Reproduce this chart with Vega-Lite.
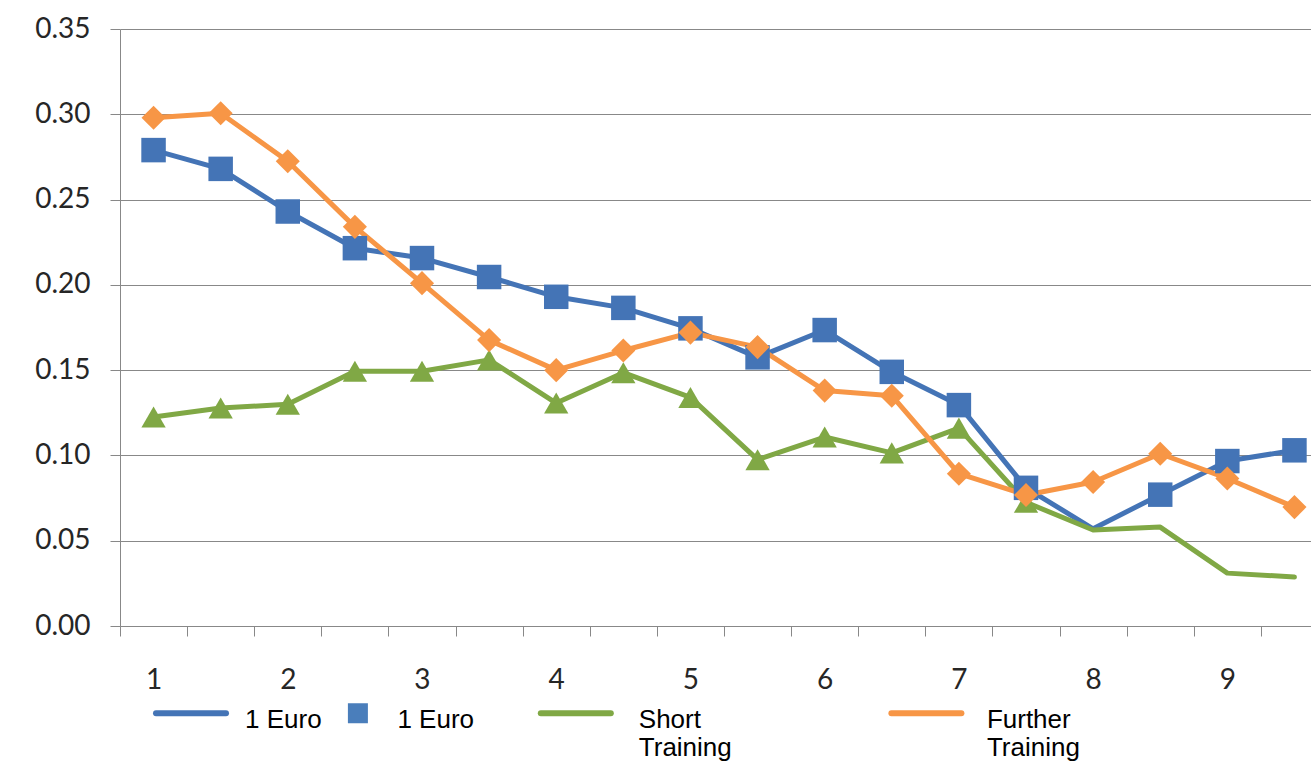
{
  "$schema": "https://vega.github.io/schema/vega-lite/v6.json",
  "autosize": "none",
  "padding": {"left": 120, "top": 29, "right": 0, "bottom": 137},
  "width": 1208,
  "height": 597,
  "background": "white",
  "config": {
    "view": {"stroke": null},
    "legend": {
      "orient": "none",
      "legendX": 36,
      "legendY": 672,
      "padding": 0,
      "direction": "horizontal",
      "title": null,
      "symbolType": "stroke",
      "symbolSize": 4900,
      "symbolStrokeWidth": 6,
      "labelFont": "Liberation Sans",
      "labelFontSize": 26,
      "labelColor": "#000000",
      "labelOffset": 19.5,
      "labelLimit": 0,
      "labelBaseline": "top",
      "labelLineHeight": 32,
      "columnPadding": 25.4
    }
  },
  "data": {
    "values": [
      {"x": 1, "series": "1 Euro", "v": 0.279, "m": true},
      {"x": 2, "series": "1 Euro", "v": 0.268, "m": true},
      {"x": 3, "series": "1 Euro", "v": 0.243, "m": true},
      {"x": 4, "series": "1 Euro", "v": 0.2215, "m": true},
      {"x": 5, "series": "1 Euro", "v": 0.2157, "m": true},
      {"x": 6, "series": "1 Euro", "v": 0.2046, "m": true},
      {"x": 7, "series": "1 Euro", "v": 0.193, "m": true},
      {"x": 8, "series": "1 Euro", "v": 0.1865, "m": true},
      {"x": 9, "series": "1 Euro", "v": 0.1745, "m": true},
      {"x": 10, "series": "1 Euro", "v": 0.1575, "m": true},
      {"x": 11, "series": "1 Euro", "v": 0.1735, "m": true},
      {"x": 12, "series": "1 Euro", "v": 0.149, "m": true},
      {"x": 13, "series": "1 Euro", "v": 0.1295, "m": true},
      {"x": 14, "series": "1 Euro", "v": 0.081, "m": true},
      {"x": 15, "series": "1 Euro", "v": 0.057, "m": false},
      {"x": 16, "series": "1 Euro", "v": 0.077, "m": true},
      {"x": 17, "series": "1 Euro", "v": 0.0967, "m": true},
      {"x": 18, "series": "1 Euro", "v": 0.103, "m": true},
      {"x": 1, "series": "Short Training", "v": 0.1225, "m": true},
      {"x": 2, "series": "Short Training", "v": 0.1278, "m": true},
      {"x": 3, "series": "Short Training", "v": 0.130, "m": true},
      {"x": 4, "series": "Short Training", "v": 0.1494, "m": true},
      {"x": 5, "series": "Short Training", "v": 0.1494, "m": true},
      {"x": 6, "series": "Short Training", "v": 0.156, "m": true},
      {"x": 7, "series": "Short Training", "v": 0.1307, "m": true},
      {"x": 8, "series": "Short Training", "v": 0.1485, "m": true},
      {"x": 9, "series": "Short Training", "v": 0.134, "m": true},
      {"x": 10, "series": "Short Training", "v": 0.0975, "m": true},
      {"x": 11, "series": "Short Training", "v": 0.1108, "m": true},
      {"x": 12, "series": "Short Training", "v": 0.1015, "m": true},
      {"x": 13, "series": "Short Training", "v": 0.116, "m": true},
      {"x": 14, "series": "Short Training", "v": 0.0725, "m": true},
      {"x": 15, "series": "Short Training", "v": 0.0563, "m": false},
      {"x": 16, "series": "Short Training", "v": 0.058, "m": false},
      {"x": 17, "series": "Short Training", "v": 0.031, "m": false},
      {"x": 18, "series": "Short Training", "v": 0.0287, "m": false},
      {"x": 1, "series": "Further Training", "v": 0.298, "m": true},
      {"x": 2, "series": "Further Training", "v": 0.3006, "m": true},
      {"x": 3, "series": "Further Training", "v": 0.2725, "m": true},
      {"x": 4, "series": "Further Training", "v": 0.234, "m": true},
      {"x": 5, "series": "Further Training", "v": 0.201, "m": true},
      {"x": 6, "series": "Further Training", "v": 0.1676, "m": true},
      {"x": 7, "series": "Further Training", "v": 0.150, "m": true},
      {"x": 8, "series": "Further Training", "v": 0.1615, "m": true},
      {"x": 9, "series": "Further Training", "v": 0.172, "m": true},
      {"x": 10, "series": "Further Training", "v": 0.1635, "m": true},
      {"x": 11, "series": "Further Training", "v": 0.138, "m": true},
      {"x": 12, "series": "Further Training", "v": 0.135, "m": true},
      {"x": 13, "series": "Further Training", "v": 0.0893, "m": true},
      {"x": 14, "series": "Further Training", "v": 0.0768, "m": true},
      {"x": 15, "series": "Further Training", "v": 0.0844, "m": true},
      {"x": 16, "series": "Further Training", "v": 0.101, "m": true},
      {"x": 17, "series": "Further Training", "v": 0.0865, "m": true},
      {"x": 18, "series": "Further Training", "v": 0.0697, "m": true}
    ]
  },
  "encoding": {
    "x": {
      "field": "x",
      "type": "quantitative",
      "scale": {"domain": [0.5, 18.5], "nice": false, "zero": false},
      "axis": {
        "title": null,
        "values": [0.5, 1.5, 2.5, 3.5, 4.5, 5.5, 6.5, 7.5, 8.5, 9.5, 10.5, 11.5, 12.5, 13.5, 14.5, 15.5, 16.5, 17.5, 18.5],
        "labelExpr": "(datum.value - 0.5) % 2 == 0 && datum.value < 18 ? format((datum.value + 1.5) / 2, 'd') : ''",
        "labelOffset": 33.55,
        "labelOverlap": false,
        "labelFlush": false,
        "labelBound": false,
        "grid": false,
        "tickSize": 10,
        "tickColor": "#888888",
        "domainColor": "#888888",
        "labelPadding": 30,
        "labelFont": "Lato",
        "labelFontSize": 28,
        "labelColor": "#262626"
      }
    },
    "y": {
      "field": "v",
      "type": "quantitative",
      "scale": {"domain": [0, 0.35], "nice": false, "zero": true},
      "axis": {
        "title": null,
        "values": [0, 0.05, 0.1, 0.15, 0.2, 0.25, 0.3, 0.35],
        "format": ".2f",
        "grid": true,
        "gridColor": "#888888",
        "gridWidth": 1.2,
        "tickSize": 10,
        "tickColor": "#888888",
        "domainColor": "#888888",
        "labelPadding": 20,
        "labelFont": "Lato",
        "labelFontSize": 28,
        "labelColor": "#262626"
      }
    },
    "color": {
      "field": "series",
      "type": "nominal",
      "scale": {
        "domain": ["1 Euro", "1 Euro ", "Short Training", "Further Training"],
        "range": ["#4474b6", "#4a7ebb", "#80a845", "#f79646"]
      },
      "legend": {
        "labelExpr": "datum.label == 'Short Training' ? ['Short', 'Training'] : datum.label == 'Further Training' ? ['Further', 'Training'] : ['1 Euro', ' ']",
        "encode": {
          "symbols": {
            "update": {
              "shape": {"signal": "datum.value == '1 Euro ' ? 'square' : 'stroke'"},
              "size": {"signal": "datum.value == '1 Euro ' ? 400 : 4900"},
              "fill": {"signal": "datum.value == '1 Euro ' ? '#4a7ebb' : 'transparent'"},
              "strokeWidth": {"signal": "datum.value == '1 Euro ' ? 0 : 6"},
              "strokeCap": {"value": "round"},
              "x": {"signal": "[35, 10.5, 76, 169.2][datum.index]"},
              "y": {"value": 12}
            }
          },
          "labels": {
            "update": {
              "x": {"signal": "[89, 50, 139, 229.7][datum.index]"},
              "y": {"value": 12},
              "dy": {"value": -6.5}
            }
          }
        }
      }
    }
  },
  "layer": [
    {
      "mark": {"type": "line", "strokeWidth": 5, "strokeJoin": "round", "strokeCap": "round"}
    },
    {
      "transform": [{"filter": "datum.m"}],
      "mark": {"type": "point", "filled": true, "opacity": 1, "strokeWidth": 0},
      "encoding": {
        "shape": {
          "field": "series",
          "type": "nominal",
          "scale": {
            "domain": ["1 Euro", "Short Training", "Further Training"],
            "range": ["square", "triangle-up", "diamond"]
          },
          "legend": null
        },
        "size": {
          "field": "series",
          "type": "nominal",
          "scale": {
            "domain": ["1 Euro", "Short Training", "Further Training"],
            "range": [600, 580, 760]
          },
          "legend": null
        }
      }
    }
  ]
}
